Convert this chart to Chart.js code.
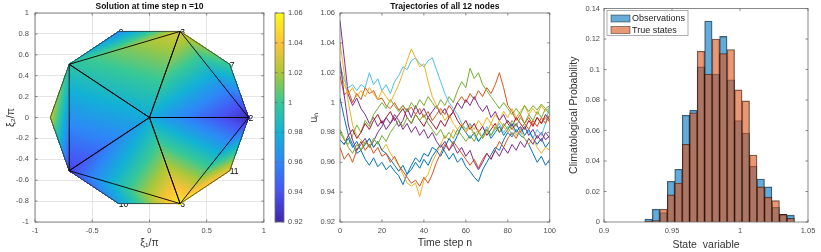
<!DOCTYPE html>
<html>
<head>
<meta charset="utf-8">
<script src="https://cdn.jsdelivr.net/npm/chart.js@4.4.1/dist/chart.umd.min.js"></script>
<style>
  html, body { margin: 0; padding: 0; background: #fff; }
  #wrap { position: relative; width: 821px; height: 252px; overflow: hidden; }
  canvas { position: absolute; top: 0; }
</style>
</head>
<body>
<div id="wrap">
  <canvas id="mesh" width="270" height="252" style="left:0px"></canvas>
  <canvas id="cbar" width="45" height="252" style="left:270px"></canvas>
  <canvas id="traj" width="260" height="252" style="left:300px"></canvas>
  <canvas id="hist" width="261" height="252" style="left:560px"></canvas>
</div>
<script>
// ---------- panel 1: mesh nodes (decagon + centre) ----------
const nodeX = [0, 0.866, 0.701, 0.268, -0.268, -0.701, -0.866, -0.701, -0.268, 0.268, 0.701];
const nodeY = [0, 0, 0.509, 0.824, 0.824, 0.509, 0, -0.509, -0.824, -0.824, -0.509];
const nodeVal = [0.978, 0.925, 1.0, 1.03, 0.962, 0.995, 1.025, 0.935, 0.972, 1.055, 1.035];
const nodeLabel = ['1', '2', '7', '3', '9', '', '', '', '10', '6', '11'];
// first five are the inner triangles (drawn with black edges)
const triangles = [[0,1,3],[0,3,5],[0,5,7],[0,7,9],[0,9,1],[1,2,3],[3,4,5],[5,6,7],[7,8,9],[9,10,1]];
const colorLimits = [0.92, 1.06];

// ---------- panel 2: trajectories, every 2nd time step ----------
const steps = [0,2,4,6,8,10,12,14,16,18,20,22,24,26,28,30,32,34,36,38,40,42,44,46,48,50,
  52,54,56,58,60,62,64,66,68,70,72,74,76,78,80,82,84,86,88,90,92,94,96,98,100];
const u1 = [1.003,0.990,0.978,0.972,0.966,0.968,0.962,0.958,0.963,0.957,
  0.960,0.955,0.958,0.954,0.951,0.945,0.952,0.958,0.963,0.960,
  0.966,0.964,0.970,0.968,0.972,0.967,0.962,0.966,0.960,0.963,
  0.957,0.954,0.950,0.947,0.955,0.960,0.965,0.970,0.968,0.975,
  0.980,0.977,0.982,0.978,0.976,0.972,0.966,0.960,0.964,0.958,0.962];
const u2 = [1.018,1.005,1.008,1.000,1.006,1.002,1.010,1.006,1.008,1.002,
  1.003,0.998,0.996,1.000,0.995,0.998,0.994,0.997,0.992,0.996,
  0.990,0.994,0.988,0.992,0.996,0.992,0.998,0.994,1.000,1.004,
  1.000,1.006,1.002,1.008,1.004,1.010,1.006,1.012,1.020,1.010,
  0.998,0.994,0.988,0.992,0.986,0.990,0.985,0.990,0.986,0.990,0.987];
const u3 = [1.040,1.020,1.000,0.985,0.978,0.975,0.972,0.976,0.970,0.974,
  0.968,0.972,0.966,0.962,0.958,0.952,0.946,0.944,0.946,0.937,
  0.948,0.952,0.960,0.966,0.972,0.978,0.975,0.982,0.978,0.985,
  0.980,0.986,0.982,0.988,0.984,0.990,0.986,0.992,0.988,0.994,
  0.990,0.996,0.990,0.994,0.998,0.992,0.996,0.992,0.998,0.994,0.997];
const u4 = [1.055,1.030,1.005,0.998,1.003,0.996,0.992,0.986,0.990,0.984,
  0.988,0.982,0.986,0.990,0.984,0.988,0.996,0.990,0.998,0.992,
  0.996,0.990,0.994,0.998,0.992,0.996,0.990,0.994,1.000,0.996,
  1.002,0.998,1.004,0.998,0.994,0.998,0.990,0.994,0.988,0.992,
  0.986,0.982,0.986,0.980,0.984,0.978,0.982,0.976,0.980,0.975,0.978];
const u5 = [0.980,0.975,0.972,0.978,0.985,0.980,0.988,0.984,0.992,0.996,
  1.000,0.996,1.002,0.998,0.994,0.998,0.994,1.000,0.996,1.002,
  0.998,1.004,1.000,0.996,1.002,0.998,1.004,1.000,1.008,1.014,
  1.010,1.023,1.016,1.020,1.012,1.008,1.004,1.000,0.996,1.000,
  0.996,0.992,0.996,0.992,0.998,0.994,0.998,0.995,0.999,0.996,0.998];
const u6 = [1.025,1.015,1.010,1.012,1.008,1.012,1.010,1.020,1.012,1.016,
  1.008,1.012,1.006,1.014,1.018,1.024,1.022,1.028,1.030,1.026,
  1.024,1.028,1.030,1.022,1.014,1.006,1.000,0.996,0.992,0.986,
  0.982,0.986,0.978,0.974,0.978,0.984,0.978,0.982,0.986,0.980,
  0.984,0.978,0.982,0.978,0.984,0.980,0.976,0.982,0.978,0.986,0.998];
const u7 = [0.975,0.972,0.978,0.982,0.976,0.980,0.986,0.982,0.988,0.992,
  0.986,0.990,0.994,0.988,0.992,0.996,0.990,0.986,0.992,0.988,
  0.984,0.990,0.986,0.982,0.988,0.984,0.990,0.994,0.988,0.984,
  0.988,0.982,0.986,0.980,0.984,0.978,0.982,0.986,0.980,0.984,
  0.988,0.984,0.990,0.986,0.982,0.988,0.984,0.990,0.986,0.992,0.988];
const u8 = [0.975,0.972,0.976,0.970,0.974,0.968,0.972,0.976,0.970,0.974,
  0.968,0.966,0.962,0.958,0.954,0.958,0.952,0.955,0.960,0.956,
  0.962,0.958,0.964,0.968,0.964,0.970,0.976,0.972,0.978,0.984,
  0.980,0.976,0.980,0.974,0.978,0.982,0.976,0.980,0.984,0.978,
  0.982,0.986,0.980,0.984,0.978,0.982,0.976,0.972,0.976,0.970,0.974];
const u9 = [0.970,0.962,0.966,0.960,0.968,0.974,0.968,0.972,0.966,0.970,
  0.964,0.966,0.960,0.964,0.958,0.954,0.950,0.946,0.948,0.944,
  0.950,0.946,0.952,0.960,0.966,0.972,0.968,0.974,0.970,0.966,
  0.962,0.958,0.962,0.956,0.962,0.966,0.962,0.968,0.974,0.970,
  0.976,0.980,0.976,0.982,0.986,0.982,0.988,0.984,0.990,0.986,0.992];
const u10 = [1.022,1.012,1.006,1.010,1.004,1.008,1.004,1.010,1.006,1.002,
  1.008,1.004,1.000,1.006,1.012,1.020,1.028,1.036,1.030,1.024,
  1.026,1.014,1.004,0.998,0.994,0.988,0.992,0.986,0.982,0.986,
  0.980,0.984,0.978,0.982,0.976,0.980,0.986,0.982,0.988,0.984,
  0.980,0.984,0.978,0.982,0.976,0.972,0.976,0.970,0.966,0.970,0.968];
const u11 = [1.028,1.005,0.985,0.975,0.968,0.972,0.976,0.970,0.974,0.980,
  0.984,0.990,0.986,0.992,0.988,0.982,0.986,0.980,0.984,0.978,
  0.982,0.976,0.980,0.974,0.970,0.974,0.968,0.972,0.966,0.970,
  0.964,0.968,0.960,0.955,0.960,0.966,0.962,0.968,0.964,0.970,
  0.966,0.972,0.968,0.974,0.970,0.976,0.972,0.978,0.974,0.980,0.976];
const u12 = [0.982,0.976,0.970,0.966,0.972,0.968,0.974,0.970,0.976,0.972,
  0.978,0.974,0.980,0.984,0.988,0.984,0.990,0.986,0.992,0.988,
  0.992,0.986,0.982,0.978,0.982,0.976,0.980,0.976,0.982,0.978,
  0.974,0.978,0.974,0.980,0.976,0.982,0.978,0.984,0.980,0.986,
  0.982,0.988,0.984,0.990,0.986,0.992,0.988,0.994,0.990,0.996,0.992];
const trajectories = [u1, u2, u3, u4, u5, u6, u7, u8, u9, u10, u11, u12];

// ---------- panel 3: histogram ----------
const binCenters = [0.93275,0.93825,0.94375,0.94925,0.95475,0.96025,0.96575,0.97125,0.97675,0.98225,
  0.98775,0.99325,0.99875,1.00425,1.00975,1.01525,1.02075,1.02625,1.03175,1.03725];
const obsProb = [0.0019,0.0084,0.0062,0.0267,0.0346,0.0700,0.0733,0.1017,0.1318,0.0970,
  0.1217,0.0933,0.0665,0.0583,0.0366,0.0282,0.0230,0.0097,0.0050,0.0045];
const trueProb = [0.0004,0.0010,0.0084,0.0178,0.0256,0.0510,0.0716,0.1120,0.0970,0.1200,
  0.1105,0.1131,0.0866,0.0794,0.0439,0.0230,0.0163,0.0140,0.0050,0.0024];

const matlabColors = ['#0072BD','#D95319','#EDB120','#7E2F8E','#77AC30','#4DBEEE','#A2142F'];
const parulaStops = [[62,38,168],[72,82,244],[46,135,247],[18,177,214],[55,200,151],[171,199,57],[254,195,56],[249,251,21]];

Chart.defaults.font.family = '"Liberation Sans", Arial, Helvetica, sans-serif';
Chart.defaults.color = '#4d4d4d';
Chart.defaults.animation = false;

function parula(t) {
  t = Math.min(1, Math.max(0, t));
  const s = t * (parulaStops.length - 1);
  const i = Math.min(Math.floor(s), parulaStops.length - 2);
  const f = s - i;
  const a = parulaStops[i], b = parulaStops[i + 1];
  return [0, 1, 2].map(k => Math.round(a[k] + (b[k] - a[k]) * f));
}

function fmt(v) { return String(+v.toFixed(3)); }

const tickFont = { size: 7.5 };
const labelFont = { size: 10.5 };

// box around the axes with inward ticks, MATLAB style
const boxPlugin = {
  id: 'box',
  afterDatasetsDraw(chart) {
    const { ctx, chartArea: a } = chart;
    ctx.save();
    ctx.strokeStyle = '#6b6b6b';
    ctx.lineWidth = 0.8;
    ctx.strokeRect(a.left, a.top, a.right - a.left, a.bottom - a.top);
    ctx.beginPath();
    Object.values(chart.scales).forEach(s => {
      if (!s.options.display) return;
      s.ticks.forEach(t => {
        const p = s.getPixelForValue(t.value);
        if (s.isHorizontal()) {
          ctx.moveTo(p, a.bottom); ctx.lineTo(p, a.bottom - 2.5);
          ctx.moveTo(p, a.top); ctx.lineTo(p, a.top + 2.5);
        } else {
          ctx.moveTo(a.left, p); ctx.lineTo(a.left + 2.5, p);
          ctx.moveTo(a.right, p); ctx.lineTo(a.right - 2.5, p);
        }
      });
    });
    ctx.stroke();
    ctx.restore();
  }
};

// title centred on the plot area
const axTitle = {
  id: 'axTitle',
  afterDraw(chart, args, opts) {
    if (!opts.text) return;
    const { ctx, chartArea: a } = chart;
    ctx.save();
    ctx.font = 'bold 8.5px "Liberation Sans", Arial, sans-serif';
    ctx.fillStyle = '#111';
    ctx.textAlign = 'center';
    ctx.textBaseline = 'middle';
    ctx.fillText(opts.text, (a.left + a.right) / 2, opts.y);
    ctx.restore();
  }
};

// interpolated field on the triangles
const meshPlugin = {
  id: 'mesh',
  beforeDatasetsDraw(chart) {
    const { ctx, chartArea: a, scales: { x, y } } = chart;
    const left = Math.round(a.left), top = Math.round(a.top);
    const px = nodeX.map(v => x.getPixelForValue(v));
    const py = nodeY.map(v => y.getPixelForValue(v));
    ctx.save();
    ctx.font = '8.5px "Liberation Sans", Arial, sans-serif';
    ctx.fillStyle = '#000';
    ctx.textBaseline = 'middle';
    nodeLabel.forEach((t, i) => { if (t) ctx.fillText(t, px[i], py[i] + 1); });

    const w = Math.ceil(a.right - left), h = Math.ceil(a.bottom - top);
    const off = document.createElement('canvas');
    off.width = w; off.height = h;
    const octx = off.getContext('2d');
    const img = octx.createImageData(w, h);
    triangles.forEach(([i, j, k]) => {
      const x1 = px[i] - left, y1 = py[i] - top;
      const x2 = px[j] - left, y2 = py[j] - top;
      const x3 = px[k] - left, y3 = py[k] - top;
      const det = (y2 - y3) * (x1 - x3) + (x3 - x2) * (y1 - y3);
      const x0 = Math.max(0, Math.floor(Math.min(x1, x2, x3)));
      const xN = Math.min(w - 1, Math.ceil(Math.max(x1, x2, x3)));
      const y0 = Math.max(0, Math.floor(Math.min(y1, y2, y3)));
      const yN = Math.min(h - 1, Math.ceil(Math.max(y1, y2, y3)));
      for (let yy = y0; yy <= yN; yy++) {
        for (let xx = x0; xx <= xN; xx++) {
          const cx = xx + 0.5, cy = yy + 0.5;
          const l1 = ((y2 - y3) * (cx - x3) + (x3 - x2) * (cy - y3)) / det;
          const l2 = ((y3 - y1) * (cx - x3) + (x1 - x3) * (cy - y3)) / det;
          const l3 = 1 - l1 - l2;
          if (l1 < -0.02 || l2 < -0.02 || l3 < -0.02) continue;
          const v = l1 * nodeVal[i] + l2 * nodeVal[j] + l3 * nodeVal[k];
          const c = parula((v - colorLimits[0]) / (colorLimits[1] - colorLimits[0]));
          const o = (yy * w + xx) * 4;
          img.data[o] = c[0]; img.data[o + 1] = c[1]; img.data[o + 2] = c[2]; img.data[o + 3] = 255;
        }
      }
    });
    octx.putImageData(img, 0, 0);
    ctx.drawImage(off, left, top);

    // outer boundary
    ctx.strokeStyle = '#222';
    ctx.lineWidth = 0.7;
    ctx.beginPath();
    for (let n = 1; n < nodeX.length; n++) {
      if (n === 1) ctx.moveTo(px[n], py[n]); else ctx.lineTo(px[n], py[n]);
    }
    ctx.closePath();
    ctx.stroke();
    // inner triangle edges
    ctx.strokeStyle = '#000';
    ctx.lineWidth = 0.9;
    ctx.beginPath();
    triangles.slice(0, 5).forEach(([i, j, k]) => {
      ctx.moveTo(px[i], py[i]); ctx.lineTo(px[j], py[j]); ctx.lineTo(px[k], py[k]); ctx.closePath();
    });
    ctx.stroke();
    ctx.restore();
  }
};

// ---------- panel 1 ----------
new Chart(document.getElementById('mesh'), {
  type: 'scatter',
  data: { datasets: [{ data: nodeX.map((v, i) => ({ x: v, y: nodeY[i] })), pointRadius: 0 }] },
  options: {
    responsive: false,
    layout: { padding: { top: 13, right: 4 } },
    plugins: { legend: { display: false }, tooltip: { enabled: false },
      axTitle: { text: 'Solution at time step n =10', y: 6.5 } },
    scales: {
      x: { type: 'linear', min: -1, max: 1,
        grid: { color: '#e6e6e6', drawTicks: false }, border: { display: false },
        ticks: { stepSize: 0.5, font: tickFont, padding: 4, maxRotation: 0, callback: fmt },
        title: { display: true, text: 'ξ₁/π', font: labelFont, color: '#333', padding: { top: 0, bottom: 3 } },
        afterFit(s) { s.height = 30; } },
      y: { min: -1, max: 1,
        grid: { color: '#e6e6e6', drawTicks: false }, border: { display: false },
        ticks: { stepSize: 0.2, font: tickFont, padding: 6, callback: fmt },
        title: { display: true, text: 'ξ₂/π', font: labelFont, color: '#333', padding: { top: 5, bottom: 0 } },
        afterFit(s) { s.width = 35; } }
    }
  },
  plugins: [meshPlugin, boxPlugin, axTitle]
});

// ---------- colorbar ----------
new Chart(document.getElementById('cbar'), {
  type: 'scatter',
  data: { datasets: [{ data: [] }] },
  options: {
    responsive: false,
    layout: { padding: { top: 13, bottom: 30, left: 5 } },
    plugins: { legend: { display: false }, tooltip: { enabled: false } },
    scales: {
      x: { display: false, min: 0, max: 1 },
      y: { position: 'right', min: colorLimits[0], max: colorLimits[1],
        grid: { display: false, drawTicks: false }, border: { display: false },
        ticks: { stepSize: 0.02, font: tickFont, padding: 4, callback: fmt },
        afterFit(s) { s.width = 31; } }
    }
  },
  plugins: [{
    id: 'cgrad',
    beforeDatasetsDraw(chart) {
      const { ctx, chartArea: a, scales: { y } } = chart;
      const g = ctx.createLinearGradient(0, y.getPixelForValue(colorLimits[0]), 0, y.getPixelForValue(colorLimits[1]));
      parulaStops.forEach((c, i) => g.addColorStop(i / (parulaStops.length - 1), `rgb(${c[0]},${c[1]},${c[2]})`));
      ctx.save();
      ctx.fillStyle = g;
      ctx.fillRect(a.left, a.top, a.right - a.left, a.bottom - a.top);
      ctx.restore();
    }
  }, boxPlugin]
});

// ---------- panel 2 ----------
new Chart(document.getElementById('traj'), {
  type: 'line',
  data: {
    datasets: trajectories.map((u, i) => ({
      data: u.map((v, k) => ({ x: steps[k], y: v })),
      borderColor: matlabColors[i % matlabColors.length],
      borderWidth: 1,
      pointRadius: 0,
      tension: 0,
      order: trajectories.length - i
    }))
  },
  options: {
    responsive: false,
    layout: { padding: { top: 13, right: 7 } },
    plugins: { legend: { display: false }, tooltip: { enabled: false },
      axTitle: { text: 'Trajectories of all 12 nodes', y: 6.5 } },
    scales: {
      x: { type: 'linear', min: 0, max: 100,
        grid: { display: false, drawTicks: false }, border: { display: false },
        ticks: { stepSize: 20, font: tickFont, padding: 4, maxRotation: 0, callback: fmt },
        title: { display: true, text: 'Time step n', font: labelFont, color: '#333', padding: { top: 0, bottom: 3 } },
        afterFit(s) { s.height = 30; } },
      y: { min: 0.92, max: 1.06,
        grid: { display: false, drawTicks: false }, border: { display: false },
        ticks: { stepSize: 0.02, font: tickFont, padding: 5, callback: fmt },
        title: { display: true, text: 'uₙ', font: labelFont, color: '#333', padding: { top: 8, bottom: 0 } },
        afterFit(s) { s.width = 40; } }
    }
  },
  plugins: [boxPlugin, axTitle]
});

// ---------- panel 3 ----------
const legendBox = {
  id: 'legendBox',
  afterDraw(chart) {
    const { ctx, chartArea: a } = chart;
    const x0 = a.left + 3, y0 = a.top + 2;
    ctx.save();
    ctx.fillStyle = '#fff';
    ctx.fillRect(x0, y0, 81, 25);
    ctx.strokeStyle = '#9a9a9a';
    ctx.lineWidth = 0.8;
    ctx.strokeRect(x0, y0, 81, 25);
    ctx.font = '9px "Liberation Sans", Arial, sans-serif';
    ctx.textBaseline = 'middle';
    chart.data.datasets.forEach((d, i) => {
      const cy = y0 + 8 + i * 11.5;
      ctx.fillStyle = d.backgroundColor;
      ctx.fillRect(x0 + 4, cy - 3.5, 19, 7);
      ctx.strokeStyle = 'rgba(0,0,0,0.7)';
      ctx.lineWidth = 0.6;
      ctx.strokeRect(x0 + 4, cy - 3.5, 19, 7);
      ctx.fillStyle = '#222';
      ctx.fillText(d.label, x0 + 25, cy + 0.5);
    });
    ctx.restore();
  }
};

new Chart(document.getElementById('hist'), {
  type: 'bar',
  data: {
    datasets: [
      { label: 'Observations', data: binCenters.map((c, i) => ({ x: c, y: obsProb[i] })),
        backgroundColor: 'rgba(0,114,189,0.6)', borderColor: 'rgba(0,0,0,0.65)', borderWidth: 0.7,
        barPercentage: 1, categoryPercentage: 1, grouped: false, order: 1 },
      { label: 'True states', data: binCenters.map((c, i) => ({ x: c, y: trueProb[i] })),
        backgroundColor: 'rgba(217,83,25,0.6)', borderColor: 'rgba(0,0,0,0.65)', borderWidth: 0.7,
        barPercentage: 1, categoryPercentage: 1, grouped: false, order: 0 }
    ]
  },
  options: {
    responsive: false,
    layout: { padding: { top: 5, right: 13 } },
    plugins: { legend: { display: false }, tooltip: { enabled: false } },
    scales: {
      x: { type: 'linear', min: 0.9, max: 1.05, offset: false,
        grid: { display: false, drawTicks: false }, border: { display: false },
        ticks: { stepSize: 0.05, font: tickFont, padding: 4, maxRotation: 0, callback: fmt },
        title: { display: true, text: 'State  variable', font: labelFont, color: '#333', padding: { top: 0, bottom: 1 } },
        afterFit(s) { s.height = 30; } },
      y: { min: 0, max: 0.14,
        grid: { display: false, drawTicks: false }, border: { display: false },
        ticks: { stepSize: 0.02, font: tickFont, padding: 4, callback: fmt },
        title: { display: true, text: 'Climatological Probability', font: labelFont, color: '#333', padding: { top: 8, bottom: 0 } },
        afterFit(s) { s.width = 44; } }
    }
  },
  plugins: [boxPlugin, legendBox]
});
</script>
</body>
</html>
